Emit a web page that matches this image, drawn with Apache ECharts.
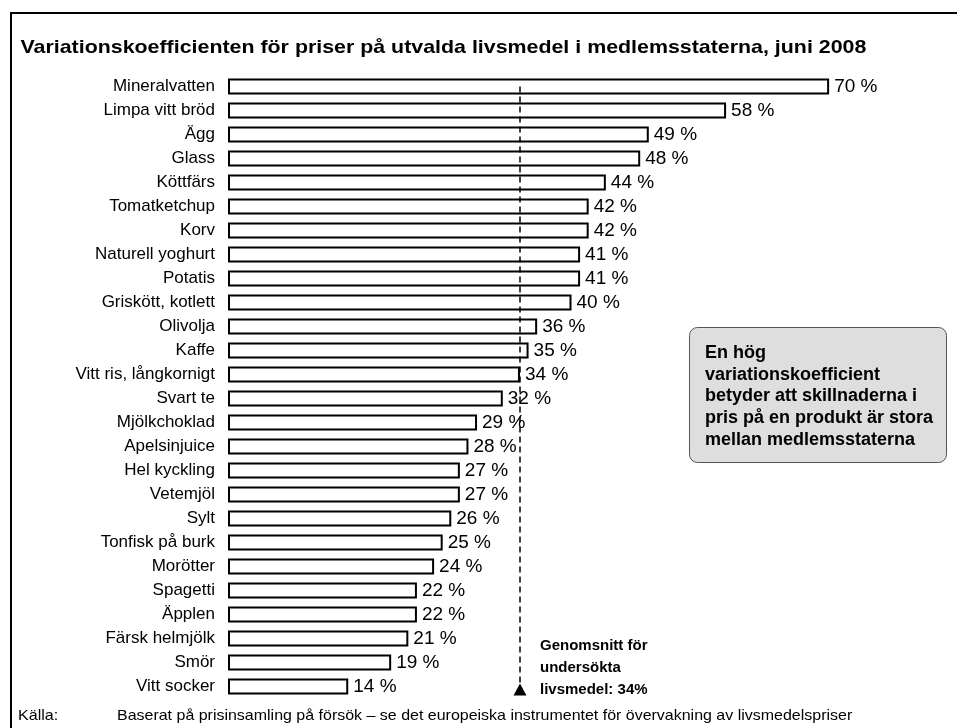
<!DOCTYPE html>
<html>
<head>
<meta charset="utf-8">
<script src="https://cdn.jsdelivr.net/npm/echarts@6/dist/echarts.min.js"></script>
<style>
html,body{margin:0;padding:0;background:#fff;}
#chart{width:957px;height:728px;}
</style>
</head>
<body>
<div id="chart"></div>
<script>
const categories = ["Mineralvatten","Limpa vitt bröd","Ägg","Glass","Köttfärs","Tomatketchup","Korv","Naturell yoghurt","Potatis","Griskött, kotlett","Olivolja","Kaffe","Vitt ris, långkornigt","Svart te","Mjölkchoklad","Apelsinjuice","Hel kyckling","Vetemjöl","Sylt","Tonfisk på burk","Morötter","Spagetti","Äpplen","Färsk helmjölk","Smör","Vitt socker"];
const values = [70,58,49,48,44,42,42,41,41,40,36,35,34,32,29,28,27,27,26,25,24,22,22,21,19,14];
const averageValue = 34;
const titleText = "Variationskoefficienten för priser på utvalda livsmedel i medlemsstaterna, juni 2008";
const boxText = "En hög\nvariationskoefficient\nbetyder att skillnaderna i\npris på en produkt är stora\nmellan medlemsstaterna";
const avgText = "Genomsnitt för\nundersökta\nlivsmedel: 34%";
const sourceLabel = "Källa:";
const sourceText = "Baserat på prisinsamling på försök – se det europeiska instrumentet för övervakning av livsmedelspriser";

const FONT = "'Liberation Sans', Arial, sans-serif";
const chart = echarts.init(document.getElementById('chart'), null, {renderer:'canvas'});
chart.setOption({
  animation:false,
  backgroundColor:'#fff',
  grid:{left:228, top:74.5, width:687, height:624, containLabel:false},
  xAxis:{type:'value', min:0, max:80, show:false},
  yAxis:{
    type:'category', data:categories, inverse:true,
    axisLine:{show:false}, axisTick:{show:false},
    axisLabel:{fontFamily:FONT, fontSize:17, color:'#000', margin:13}
  },
  series:[{
    type:'bar', data:values, barWidth:16,
    itemStyle:{color:'#fff', borderColor:'#000', borderWidth:2},
    label:{show:true, position:'right', distance:5, formatter:'{c} %',
      fontFamily:FONT, fontSize:19, color:'#000'},
    markLine:{
      silent:true, symbol:['none','none'],
      lineStyle:{color:'#000', type:[6,4], width:1.5},
      label:{show:false},
      data:[[{coord:[averageValue, categories[0]]},{coord:[averageValue, categories[categories.length-1]]}]]
    },
    markPoint:{
      silent:true,
      symbol:'triangle', symbolSize:[13,12], symbolOffset:[0,3],
      itemStyle:{color:'#000'}, label:{show:false},
      data:[{coord:[averageValue, categories[categories.length-1]]}]
    }
  }],
  graphic:[
    {type:'rect', shape:{x:11, y:13, width:960, height:730}, style:{fill:'none', stroke:'#000', lineWidth:2}, silent:true},
    {type:'text', x:20.5, y:47.5, scaleX:1.125, style:{text:titleText, fontFamily:FONT, fontSize:19, fontWeight:'bold', fill:'#000', verticalAlign:'middle'}, silent:true},
    {type:'rect', shape:{x:689.5, y:327.5, width:257, height:135, r:8}, style:{fill:'#dedede', stroke:'#555', lineWidth:1}, silent:true},
    {type:'text', x:705, y:342, style:{text:boxText, fontFamily:FONT, fontSize:18, fontWeight:'bold', fill:'#000', lineHeight:21.75}, silent:true},
    {type:'text', x:540, y:635, style:{text:avgText, fontFamily:FONT, fontSize:15, fontWeight:'bold', fill:'#000', lineHeight:22}, silent:true},
    {type:'text', x:18, y:708, scaleX:1.07, style:{text:sourceLabel, fontFamily:FONT, fontSize:15, fill:'#000'}, silent:true},
    {type:'text', x:117, y:708, scaleX:1.065, style:{text:sourceText, fontFamily:FONT, fontSize:15, fill:'#000'}, silent:true}
  ]
});
</script>
</body>
</html>
